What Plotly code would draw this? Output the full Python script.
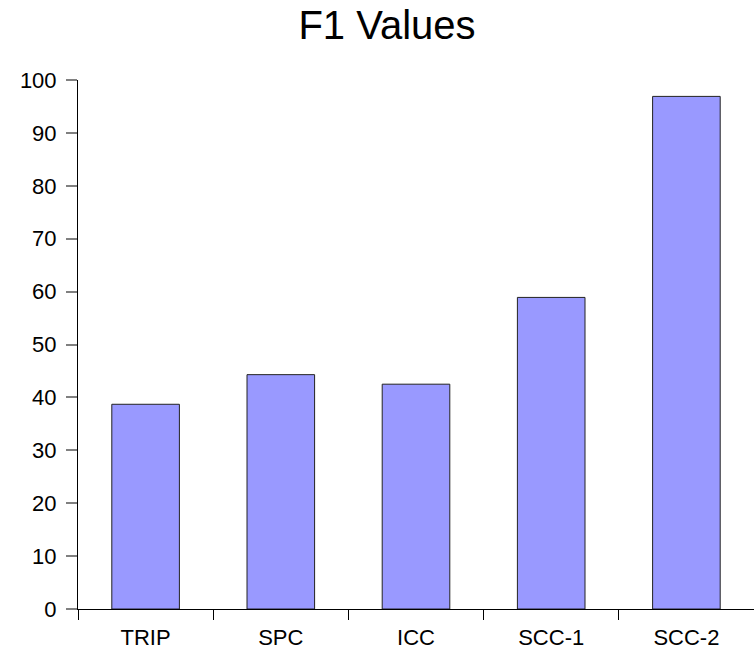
import plotly.graph_objects as go

categories = ["TRIP", "SPC", "ICC", "SCC-1", "SCC-2"]
f1_values = [38.7, 44.3, 42.5, 58.9, 96.9]
y_ticks = [0, 10, 20, 30, 40, 50, 60, 70, 80, 90, 100]

fig = go.Figure(
    go.Bar(
        x=categories,
        y=f1_values,
        marker=dict(color="#9999FF", line=dict(color="#222222", width=1)),
        width=0.5,
    )
)

fig.update_layout(
    width=754,
    height=651,
    paper_bgcolor="white",
    plot_bgcolor="white",
    margin=dict(l=78, r=0, t=80, b=42),
    showlegend=False,
    font=dict(family="Liberation Sans, Arial, sans-serif", color="black"),
    title=dict(
        text="F1 Values",
        font=dict(size=40, color="black"),
        x=387 / 754,
        xanchor="center",
        y=1 - 25 / 651,
        yanchor="middle",
        yref="container",
    ),
    xaxis=dict(
        showline=True,
        linecolor="black",
        linewidth=1,
        ticks="outside",
        tickson="boundaries",
        ticklen=10,
        tickcolor="black",
        tickwidth=1,
        ticklabelstandoff=9,
        tickfont=dict(size=22, color="black"),
        showgrid=False,
        zeroline=False,
    ),
    yaxis=dict(
        range=[0, 100],
        tickvals=y_ticks,
        showline=True,
        linecolor="black",
        linewidth=1,
        ticks="outside",
        ticklen=11,
        tickcolor="#808080",
        tickwidth=2,
        ticklabelstandoff=5,
        tickfont=dict(size=22, color="black"),
        showgrid=False,
        zeroline=False,
    ),
)

fig.write_html(
    "out.html",
    config={"displayModeBar": False},
    post_script="document.body.style.margin='0';document.body.style.overflow='hidden';",
)
